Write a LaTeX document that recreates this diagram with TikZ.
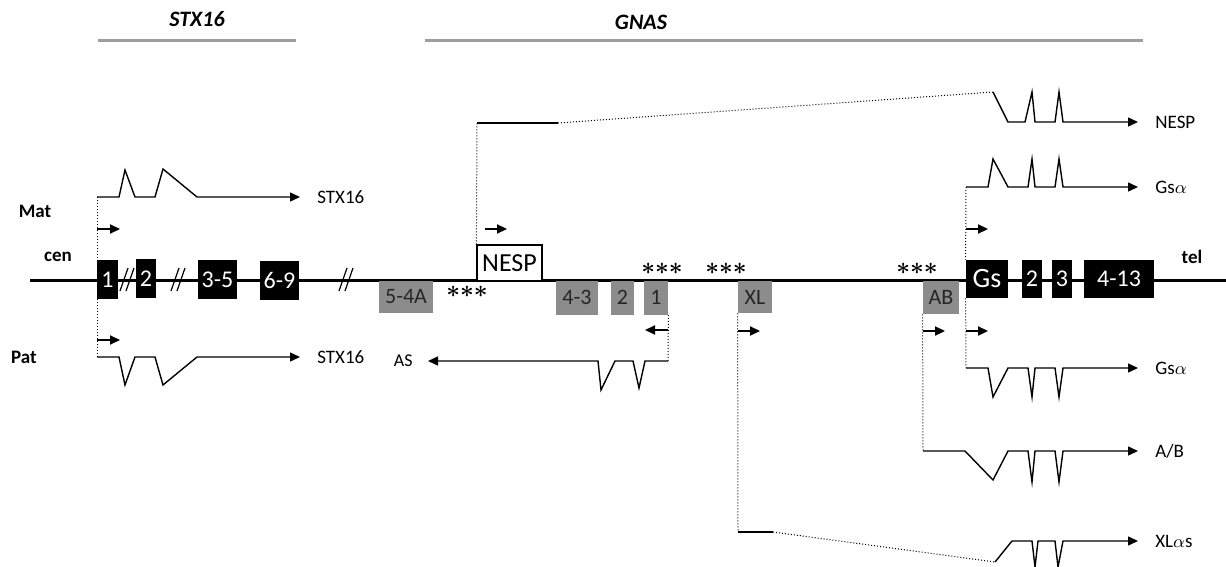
\documentclass[tikz,border=0pt]{standalone}
\usepackage{fontspec}
\setmainfont{Carlito}
\usetikzlibrary{arrows.meta}

\begin{document}
\begin{tikzpicture}[x=0.5pt,y=-0.5pt,>={Triangle[length=5pt,width=4.5pt]},
		every node/.style={font=\fontsize{9.5}{11}\selectfont},
		exon/.style={fill=black,text=white,inner sep=0pt,minimum height=19.5pt,font=\fontsize{12}{14}\selectfont},
		grayexon/.style={fill=black!45,text=black!85,inner sep=0pt,minimum height=16pt,font=\fontsize{11}{13}\selectfont},
		tx/.style={line width=0.7pt},
		splice/.style={densely dotted,line width=0.5pt},
		lead/.style={densely dotted,line width=0.5pt},
		tss/.style={->,line width=1.1pt},
		stars/.style={font=\fontsize{13}{15}\selectfont\boldmath,inner sep=0pt},
		side/.style={font=\bfseries\fontsize{9.5}{11}\selectfont},
		gene/.style={font=\bfseries\itshape\fontsize{11}{13}\selectfont},
		brk/.style={line width=0.6pt},
		]
		\useasboundingbox (0,0) rectangle (1226,567);
		
		% Gene headers
		\node[gene] (hstx) at (197,19) {STX16};
		\node[gene] (hgnas) at (641,22) {GNAS};
		\draw[black!38,line width=1.5pt] (98,41) -- (296,41);
		\draw[black!38,line width=1.5pt] (425,41) -- (1143,41);
		
		% Chromosome
		\coordinate (cenend) at (30,280);
		\coordinate (telend) at (1226,280);
		\draw[line width=1.5pt] (cenend) -- (telend);
		\node[side] (cen) at (58,257) {cen};
		\node[side] (tel) at (1192,257) {tel};
		\node[side] (mat) at (35,211) {Mat};
		\node[side] (pat) at (24,357) {Pat};
		
		% STX16 promoter
		\coordinate (stxm) at (97,197);
		\coordinate (stxp) at (97,357);
		\draw[lead] (stxm) -- (stxp);
		\draw[tss] (97,229) -- (120,229);
		\draw[tss] (97,340) -- (120,340);
		\draw[tx,->] (stxm) -- (119,197) -- (125,170) -- (135,197) -- (155,197) -- (163,169) -- (197,197) -- (300,197)
		node[right=5pt] (tstxm) {STX16};
		\draw[tx,->] (stxp) -- (119,357) -- (125,385) -- (135,357) -- (155,357) -- (163,385) -- (197,357) -- (300,357)
		node[right=5pt] (tstxp) {STX16};
		
		% STX16 exons
		\node[exon,minimum width=10.5pt] (s1) at (107.5,279.5) {1};
		\node[exon,minimum width=10pt] (s2) at (146,278.5) {2};
		\node[exon,minimum width=19.5pt] (s35) at (217.5,279.5) {3-5};
		\node[exon,minimum width=19.5pt] (s69) at (279.5,280.5) {6-9};
		\foreach \x in {127,178,346}
		{
			\draw[brk] (\x-7,291) -- (\x+1,268);
			\draw[brk] (\x-1,291) -- (\x+7,268);
		}
		
		% GNAS upstream exons
		\node[grayexon,minimum width=27pt] (a54) at (406,297) {5-4A};
		\node[stars] (st1) at (467,292) {${\ast}{\ast}{\ast}$};
		\node[draw,fill=white,line width=0.6pt,inner sep=0pt,minimum width=32.5pt,minimum height=18pt,
		font=\fontsize{13}{15}\selectfont] (nesp) at (509.5,263) {NESP};
		\node[grayexon,minimum width=21pt,minimum height=17pt] (a43) at (577,297.5) {4-3};
		\node[grayexon,minimum width=11.5pt,minimum height=17pt] (a2) at (622.5,297.5) {2};
		\node[grayexon,minimum width=12pt,minimum height=17pt] (a1) at (656,297.5) {1};
		\node[stars] (st2) at (662,269) {${\ast}{\ast}{\ast}$};
		\node[stars] (st3) at (726,269) {${\ast}{\ast}{\ast}$};
		\node[grayexon,minimum width=17pt] (xl) at (755,297) {XL};
		\node[stars] (st4) at (917,269) {${\ast}{\ast}{\ast}$};
		\node[grayexon,minimum width=18pt,minimum height=16.5pt] (ab) at (941,297.5) {AB};
		
		% GNAS downstream exons
		\node[exon,minimum width=21pt,minimum height=19pt,font=\fontsize{14}{16}\selectfont] (gs) at (987,279) {Gs};
		\node[exon,minimum width=10pt,minimum height=19pt] (e2) at (1032,279) {2};
		\node[exon,minimum width=10pt,minimum height=19pt] (e3) at (1062,279) {3};
		\node[exon,minimum width=35pt,minimum height=19pt] (e413) at (1119,278.5) {4-13};
		
		% NESP transcript
		\coordinate (nt) at (477,123);
		\draw[lead] (nesp.north west) -- (nt);
		\draw[tss] (485,229) -- (507,229);
		\draw[tx] (nt) -- (558,123);
		\draw[splice] (558,123) -- (993,92);
		\draw[tx,->] (993,92) -- (1008,122) -- (1025,122) -- (1032,92) -- (1035,122) -- (1055,122) -- (1059,92) -- (1063,122) -- (1138,122)
		node[right=5pt] (tnesp) {NESP};
		
		% AS transcript
		\coordinate (ast) at (668,361);
		\draw[lead] (a1.south east) -- (ast);
		\draw[tss] (668,330) -- (645,330);
		\draw[tx,->] (ast) -- (645,361) -- (639,388) -- (633,361) -- (615,361) -- (601,390) -- (598,361) -- (428,361)
		node[left=4pt,font=\fontsize{9}{11}\selectfont] (tas) {AS};
		
		% XL transcript
		\coordinate (xlt) at (738,532);
		\draw[lead] (xl.south west) -- (xlt);
		\draw[tss] (738,331) -- (760,331);
		\draw[tx] (xlt) -- (773,532);
		\draw[splice] (773,532) -- (995,562);
		\draw[tx,->] (995,562) -- (1012,541) -- (1032,541) -- (1035,567) -- (1038,541) -- (1055,541) -- (1058,567) -- (1063,541) -- (1138,541)
		node[right=5pt] (txl) {XL$\alpha$s};
		
		% A/B transcript
		\coordinate (abt) at (923,451);
		\draw[lead] (ab.south west) -- (abt);
		\draw[tss] (923,331) -- (945,331);
		\draw[tx,->] (abt) -- (965,451) -- (993,480) -- (1008,451) -- (1028,451) -- (1032,482) -- (1035,451) -- (1055,451) -- (1059,482) -- (1063,451) -- (1138,451)
		node[right=5pt] (tab) {A/B};
		
		% Gs alpha transcripts
		\coordinate (gsm) at (966,187);
		\coordinate (gsp) at (966,368);
		\draw[lead] (gsm) -- (gs.north west);
		\draw[lead] (gs.south west) -- (gsp);
		\draw[tss] (966,229) -- (988,229);
		\draw[tss] (966,331) -- (988,331);
		\draw[tx,->] (gsm) -- (988,187) -- (993,159) -- (1008,187) -- (1028,187) -- (1032,159) -- (1035,187) -- (1055,187) -- (1059,159) -- (1063,187) -- (1138,187)
		node[right=5pt] (tgsm) {Gs$\alpha$};
		\draw[tx,->] (gsp) -- (988,368) -- (993,397) -- (1008,368) -- (1028,368) -- (1032,397) -- (1035,368) -- (1055,368) -- (1059,397) -- (1063,368) -- (1138,368)
		node[right=5pt] (tgsp) {Gs$\alpha$};
		
	\end{tikzpicture}
\end{document}
